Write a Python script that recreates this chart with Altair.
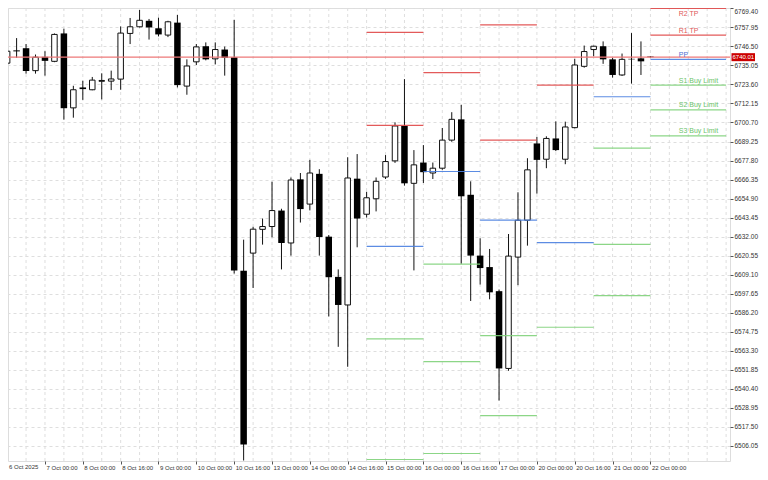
import json
import altair as alt
import pandas as pd

# ---------------- data ----------------
bar_index = list(range(69))
opens = [6736.4, 6744.1, 6745.4, 6731.9, 6740.2, 6737.5, 6754.3, 6709.5, 6721.8, 6720.4,
         6725.5, 6725.6, 6726.8, 6754.3, 6758.3, 6761.9, 6757.4, 6753.3, 6760.8, 6722.6,
         6737.2, 6746.6, 6739.0, 6744.6, 6740.0, 6611.5, 6622.1, 6636.4, 6638.1, 6647.7,
         6628.2, 6666.5, 6651.6, 6669.8, 6632.0, 6607.8, 6590.9, 6666.9, 6645.5, 6654.8,
         6667.9, 6677.6, 6698.6, 6664.1, 6676.6, 6670.3, 6673.2, 6690.1, 6702.6, 6657.2,
         6620.6, 6613.7, 6599.2, 6552.7, 6619.7, 6641.9, 6688.1, 6678.6, 6691.1, 6678.6,
         6697.6, 6734.5, 6744.6, 6746.6, 6738.7, 6729.3, 6739.0, 6739.3, 6740.4]
highs = [6744.2, 6751.5, 6747.9, 6741.6, 6743.6, 6754.3, 6757.1, 6722.8, 6725.8, 6728.1,
         6730.3, 6731.9, 6758.5, 6763.6, 6768.4, 6763.0, 6763.8, 6761.9, 6765.4, 6738.7,
         6747.9, 6748.9, 6748.9, 6746.4, 6762.5, 6630.2, 6637.9, 6642.9, 6665.1, 6648.8,
         6667.6, 6670.3, 6678.2, 6672.6, 6633.0, 6612.3, 6679.8, 6681.7, 6659.0, 6667.6,
         6681.1, 6700.8, 6726.8, 6684.1, 6687.1, 6676.6, 6697.4, 6706.9, 6711.3, 6665.3,
         6631.0, 6624.6, 6600.2, 6633.6, 6658.7, 6679.2, 6692.0, 6692.4, 6701.4, 6701.2,
         6739.0, 6747.0, 6746.9, 6749.5, 6739.6, 6742.2, 6754.5, 6749.5, 6740.6]
lows = [6735.9, 6739.6, 6730.1, 6730.1, 6728.9, 6737.0, 6702.4, 6703.6, 6714.3, 6720.1,
        6714.6, 6720.2, 6720.4, 6747.9, 6757.9, 6750.6, 6752.5, 6752.1, 6721.8, 6717.4,
        6735.3, 6738.1, 6735.7, 6728.9, 6609.8, 6497.3, 6601.1, 6627.2, 6631.6, 6612.3,
        6620.6, 6640.5, 6647.8, 6620.6, 6584.0, 6565.7, 6553.7, 6625.6, 6643.5, 6647.2,
        6666.7, 6676.4, 6662.7, 6611.7, 6664.3, 6666.7, 6672.2, 6689.1, 6615.7, 6593.3,
        6603.2, 6594.3, 6533.4, 6551.3, 6602.8, 6626.6, 6657.9, 6673.2, 6683.5, 6675.6,
        6697.2, 6733.7, 6740.6, 6736.0, 6727.7, 6728.7, 6724.1, 6729.3, 6739.7]
closes = [6743.6, 6743.5, 6731.7, 6740.0, 6737.8, 6753.7, 6709.3, 6720.4, 6720.8, 6726.2,
          6726.0, 6726.9, 6754.5, 6758.3, 6762.2, 6757.9, 6753.7, 6761.3, 6723.2, 6734.7,
          6746.2, 6738.7, 6744.6, 6739.6, 6611.7, 6506.9, 6636.5, 6638.1, 6647.7, 6628.2,
          6666.1, 6648.6, 6670.3, 6631.8, 6607.6, 6590.9, 6667.3, 6642.9, 6655.4, 6665.3,
          6677.2, 6698.6, 6664.1, 6675.2, 6670.8, 6673.2, 6690.1, 6702.6, 6656.3, 6620.6,
          6613.1, 6598.5, 6552.7, 6620.3, 6641.9, 6672.2, 6678.2, 6691.1, 6684.1, 6698.0,
          6735.3, 6743.4, 6746.6, 6738.7, 6729.3, 6738.7, 6738.7, 6737.5, 6740.01]

tick_bars = [0, 4, 8, 12, 16, 20, 24, 28, 32, 36, 40, 44, 48, 52, 56, 60, 64, 68]
tick_labels = ["6 Oct 2025", "7 Oct 00:00", "8 Oct 00:00", "8 Oct 16:00", "9 Oct 00:00",
               "10 Oct 00:00", "10 Oct 16:00", "13 Oct 00:00", "14 Oct 00:00", "14 Oct 16:00",
               "15 Oct 00:00", "16 Oct 00:00", "16 Oct 16:00", "17 Oct 00:00", "20 Oct 00:00",
               "20 Oct 16:00", "21 Oct 00:00", "22 Oct 00:00"]
y_ticks = [6506.05, 6517.50, 6528.95, 6540.40, 6551.85, 6563.30, 6574.75, 6586.20,
           6597.65, 6609.10, 6620.55, 6632.00, 6643.45, 6654.90, 6666.35, 6677.80,
           6689.25, 6700.70, 6712.15, 6723.60, 6735.05, 6746.50, 6757.95, 6769.40]

# daily pivot segments (bar index range) and levels (None = off chart)
seg_start = [38, 44, 50, 56, 62, 68]
seg_end = [44, 50, 56, 62, 68, 76]
lvl_R2 = [6754.9, None, 6759.5, None, None, 6769.3]
lvl_R1 = [6699.0, 6730.7, 6690.1, 6723.2, None, 6753.3]
lvl_PP = [6626.2, 6671.2, 6641.9, 6628.4, 6716.2, 6738.7]
lvl_S1 = [6570.5, 6615.5, 6572.5, 6577.5, 6685.3, 6723.2]
lvl_S2 = [6497.9, 6556.8, 6524.3, None, 6627.4, 6708.3]
lvl_S3 = [None, 6501.5, None, None, 6596.5, 6692.6]
level_names = ["R2", "R1", "PP", "S1", "S2", "S3"]
level_text = ["R2 TP", "R1 TP", "PP", "S1 Buy Limit", "S2 Buy Limit", "S3 Buy Limit"]
current_price = 6740.01
first_label = tick_labels[0]

# ---------------- styling ----------------
W, H = 722, 453
RED, BLUE, GREEN = "#e04848", "#4a7fe0", "#7fd27a"
level_color = {"R2": RED, "R1": RED, "PP": BLUE, "S1": GREEN, "S2": GREEN, "S3": GREEN}
text_color = {"R2": "#e05a5a", "R1": "#e05a5a", "PP": "#4f6fd0",
              "S1": "#6cc46a", "S2": "#6cc46a", "S3": "#6cc46a"}
FONT = "Liberation Sans"
PX_PER_BAR = 9.593
Y_TOP = 6769.6

# ---------------- tables ----------------
df = pd.DataFrame({"bar": bar_index, "open": opens, "high": highs, "low": lows, "close": closes})
df["up"] = df["close"] >= df["open"]
df["body_lo"] = df[["open", "close"]].min(axis=1)
df["body_hi"] = df[["open", "close"]].max(axis=1)

levels_all = {"R2": lvl_R2, "R1": lvl_R1, "PP": lvl_PP, "S1": lvl_S1, "S2": lvl_S2, "S3": lvl_S3}
seg_rows = []
for i in range(len(seg_start)):
    for name in level_names:
        v = levels_all[name][i]
        if v is not None:
            seg_rows.append({"start": seg_start[i], "end": seg_end[i], "level": v,
                             "color": level_color[name]})
seg_df = pd.DataFrame(seg_rows)

last = len(seg_start) - 1
lab_rows = []
for name, txt in zip(level_names, level_text):
    v = levels_all[name][last]
    if v is not None:
        # a label whose line sits at the very top edge is written below its line
        lab_rows.append({"x": seg_start[last] + 3, "level": v, "text": txt,
                         "color": text_color[name], "below": (Y_TOP - v) < 3})
lab_df = pd.DataFrame(lab_rows)

grid_df = pd.DataFrame({"g": list(range(0, seg_end[-1] + 1, 2))})
price_df = pd.DataFrame({"price": [current_price], "label": [f"{current_price:.2f}"]})

# ---------------- scales / axes ----------------
x0 = 0.62
x_scale = alt.Scale(domain=[x0, x0 + W / PX_PER_BAR], nice=False, zero=False)
y_scale = alt.Scale(domain=[6497.0, Y_TOP], nice=False, zero=False)

label_expr = "(" + json.dumps(tick_labels) + ")[round(datum.value / 4)]"
x_axis = alt.Axis(values=tick_bars, labelExpr=label_expr, title=None, grid=False,
                  domain=False, tickSize=3, tickColor="#555", labelAlign="left",
                  labelBaseline="top", labelPadding=0, labelOffset=1, labelFontSize=6,
                  labelFont=FONT, labelColor="#333", labelOverlap=False, labelFlush=False)
y_axis = alt.Axis(values=y_ticks, format=".2f", orient="right", title=None, grid=True,
                  gridColor="#dedede", gridDash=[3, 3], gridWidth=1, domain=False,
                  tickSize=3, tickColor="#555", labelPadding=1, labelFontSize=6.5,
                  labelFont=FONT, labelColor="#333", labelOverlap=False, labelFlush=2)


def X(field):
    return alt.X(field, type="quantitative", scale=x_scale, axis=x_axis)


def Y(field):
    return alt.Y(field, type="quantitative", scale=y_scale, axis=y_axis)


vgrid = alt.Chart(grid_df).mark_rule(color="#dedede", strokeDash=[3, 3], strokeWidth=1,
                                     clip=True).encode(x=X("g"))

wicks = alt.Chart(df).mark_rule(color="#111", strokeWidth=1, clip=True).encode(
    x=X("bar"), y=Y("low"), y2="high")

down_bodies = alt.Chart(df).transform_filter("!datum.up").mark_bar(
    size=6.5, color="#000", clip=True).encode(x=X("bar"), y=Y("body_lo"), y2="body_hi")

up_bodies = alt.Chart(df).transform_filter("datum.up").mark_bar(
    size=5.5, fill="#ffffff", stroke="#111", strokeWidth=1, clip=True).encode(
    x=X("bar"), y=Y("body_lo"), y2="body_hi")

pivots = alt.Chart(seg_df).mark_rule(strokeWidth=1.2, opacity=0.9, clip=True).encode(
    x=X("start"), x2="end", y=Y("level"), color=alt.Color("color:N", scale=None))

bid_line = alt.Chart(price_df).mark_rule(color="#ee7878", strokeWidth=1.3).encode(
    y=Y("price"))

labels_above = alt.Chart(lab_df).transform_filter("!datum.below").mark_text(
    align="left", baseline="bottom", dy=-1.5, fontSize=7, font=FONT).encode(
    x=X("x"), y=Y("level"), text="text:N", color=alt.Color("color:N", scale=None))
labels_below = alt.Chart(lab_df).transform_filter("datum.below").mark_text(
    align="left", baseline="top", dy=1.5, fontSize=7, font=FONT).encode(
    x=X("x"), y=Y("level"), text="text:N", color=alt.Color("color:N", scale=None))

tag_box = alt.Chart(price_df).mark_rule(color="#cc0000", strokeWidth=8, strokeCap="butt").encode(
    x=alt.value(W + 1.5), x2=alt.value(W + 25), y=Y("price"))
tag_text = alt.Chart(price_df).mark_text(align="left", baseline="middle", color="#ffffff",
                                         fontSize=6, font=FONT).encode(
    x=alt.value(W + 2.5), y=Y("price"), text="label:N")

first_tick_label = alt.Chart(pd.DataFrame({"t": [first_label]})).mark_text(
    align="left", baseline="top", fontSize=6, font=FONT, color="#333").encode(
    x=alt.value(1), y=alt.value(H + 3), text="t:N")

chart = alt.layer(vgrid, wicks, down_bodies, up_bodies, pivots, bid_line, labels_above,
                  labels_below, tag_box, tag_text, first_tick_label).properties(
    width=W, height=H,
    autosize=alt.AutoSizeParams(type="none"),
    padding={"left": 0, "top": 0, "right": 30, "bottom": 11},
).configure_view(stroke="#555", strokeWidth=1).configure(background="#ffffff")

chart.save("out.html", embed_options={"renderer": "svg", "actions": False})
